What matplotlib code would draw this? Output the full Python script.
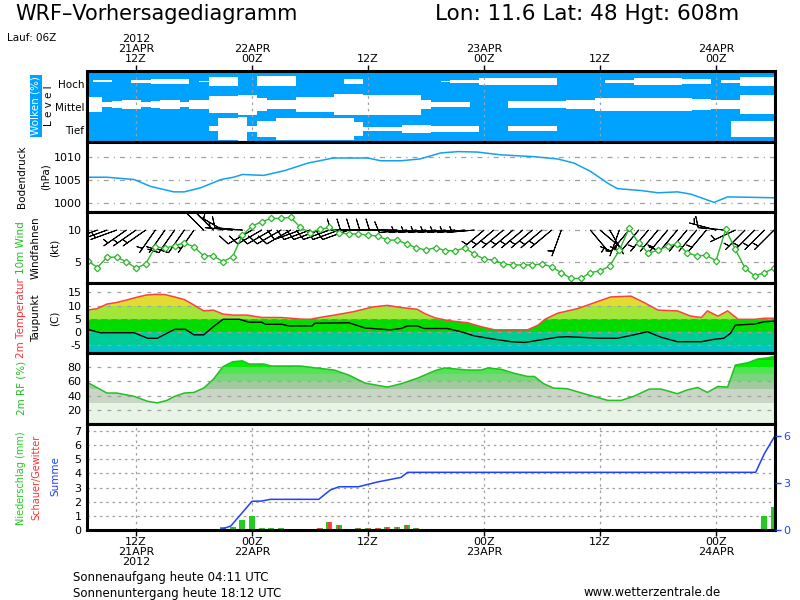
import numpy as np
import matplotlib
matplotlib.use('Agg')
import matplotlib.pyplot as plt

plt.rcParams['font.family'] = ['DejaVu Sans']
plt.rcParams['axes.unicode_minus'] = False

# ---------------- data ----------------
hours = np.arange(7, 79)  # hours since 21APR 00Z (hourly, 72 steps)

cloud_high = [1.0, 0.92, 0.92, 1.0, 1.0, 0.86, 0.86, 0.8, 0.8, 0.8, 0.8, 1.0,
              0.93, 0.6, 0.6, 0.6, 1.0, 1.0, 0.58, 0.58, 0.58, 0.58, 1.0, 1.0,
              1.0, 1.0, 1.0, 0.8, 0.8, 1.0, 1.0, 1.0, 1.0, 1.0, 1.0, 1.0,
              1.0, 0.95, 0.85, 0.85, 0.85, 0.7, 0.7, 0.7, 0.7, 0.7, 0.7, 0.7,
              0.7, 1.0, 1.0, 1.0, 1.0, 1.0, 0.89, 0.89, 0.89, 0.7, 0.7, 0.7,
              0.7, 0.7, 0.82, 0.82, 0.82, 1.0, 0.86, 0.86, 0.62, 0.62, 0.62, 0.62]
cloud_mid = [0.37, 0.37, 0.82, 0.72, 0.62, 0.62, 0.8, 0.72, 0.65, 0.65, 0.78, 0.62,
             0.62, 0.25, 0.25, 0.25, 0.15, 0.15, 0.44, 0.6, 0.6, 0.6, 0.34, 0.34,
             0.34, 0.34, 0.13, 0.13, 0.13, 0.16, 0.16, 0.16, 0.16, 0.16, 0.16, 0.65,
             0.77, 0.77, 0.77, 0.77, 1.0, 1.0, 1.0, 1.0, 0.72, 0.72, 0.72, 0.72,
             0.72, 0.72, 0.65, 0.65, 0.65, 0.44, 0.44, 0.44, 0.44, 0.44, 0.44, 0.44,
             0.44, 0.44, 0.44, 0.54, 0.54, 0.65, 0.65, 0.65, 0.23, 0.23, 0.23, 0.23]
cloud_low = [1.0, 1.0, 1.0, 1.0, 1.0, 1.0, 1.0, 1.0, 1.0, 1.0, 1.0, 1.0,
             1.0, 0.79, 0.08, 0.08, 0.0, 0.72, 0.3, 0.3, 0.08, 0.08, 0.08, 0.08,
             0.05, 0.05, 0.05, 0.05, 0.44, 0.83, 0.83, 0.83, 0.83, 0.65, 0.65, 0.65,
             0.75, 0.75, 0.75, 0.75, 0.75, 1.0, 1.0, 1.0, 0.79, 0.79, 0.79, 0.79,
             0.79, 1.0, 1.0, 1.0, 1.0, 1.0, 1.0, 1.0, 1.0, 1.0, 1.0, 1.0,
             1.0, 1.0, 1.0, 1.0, 1.0, 1.0, 1.0, 0.3, 0.3, 0.3, 0.3, 0.3]

p_hours = [7, 9, 11.8, 13.5, 15.9, 17, 18.7, 20.8, 22.1, 23, 25.2, 27.3, 29.8, 32.4,
           36, 37.3, 39.4, 41.4, 43.5, 45.3, 47.3, 49.7, 53.1, 55.6, 57.3, 59, 60.8,
           61.8, 64.2, 66, 68, 69.4, 71.8, 73.2, 75.9, 78.1]
p_vals = [1005.6, 1005.6, 1005.1, 1003.6, 1002.4, 1002.4, 1003.3, 1005.1, 1005.6,
          1006.2, 1006.0, 1007.0, 1008.7, 1009.8, 1009.8, 1009.2, 1009.2, 1009.6,
          1010.9, 1011.2, 1011.1, 1010.5, 1010.1, 1009.6, 1008.7, 1006.9, 1004.3,
          1003.1, 1002.7, 1002.2, 1002.4, 1001.9, 1000.1, 1001.3, 1001.2, 1001.1]

wind_speed = [5.25, 4.2, 5.8, 5.8, 5.1, 4.1, 4.75, 7.4, 7.2, 7.6, 8.0, 7.4,
              6.0, 6.0, 5.1, 5.9, 9.2, 10.6, 11.3, 11.8, 11.8, 12.0, 10.4, 9.6,
              10.1, 10.4, 9.6, 9.4, 9.4, 9.2, 9.1, 8.45, 8.45, 7.83, 7.26, 6.9,
              7.3, 6.8, 6.8, 7.2, 6.3, 5.5, 5.35, 4.75, 4.6, 4.6, 4.6, 4.75,
              4.3, 3.4, 2.5, 2.5, 3.4, 3.7, 4.4, 6.9, 10.25, 8.0, 6.4, 6.9,
              7.5, 7.9, 6.5, 6.0, 6.1, 5.25, 10.1, 7.0, 4.1, 2.9, 3.4, 4.1]
wind_dir = [250, 250, 250, 250, 235, 235, 235, 215, 215, 215, 215, 215,
            315, 315, 300, 275, 275, 240, 240, 240, 240, 240, 250, 250,
            250, 250, 250, 250, 270, 270, 270, 270, 270, 265, 265, 265,
            265, 265, 265, 265, 265, 230, 230, 230, 230, 230, 230, 230,
            230, 200, 185, 160, 140, 130, 150, 200, 220, 220, 220, 220,
            220, 220, 220, 220, 220, 285, 275, 245, 225, 225, 225, 225]

t_hours = [7, 8, 9, 10, 11, 12, 13, 14, 15, 16, 17, 18, 19, 20, 21, 22, 23.5, 25, 27,
           29, 30, 31, 32.5, 34.5, 36.5, 38, 39.4, 41.1, 41.8, 42.9, 44.3, 46.3, 47.7,
           49.1, 50.8, 52.5, 53.6, 54.3, 55.6, 57.7, 59.4, 61.1, 63.2, 64.6, 66, 68,
           69.4, 70.5, 71.1, 72.2, 73.2, 74.3, 76, 77, 78.1]
t_vals = [8.3, 8.9, 10.6, 11.2, 12.1, 13.1, 14.0, 14.3, 14.2, 13.3, 12.3, 10.2, 8.0,
          8.3, 6.8, 6.4, 6.4, 5.5, 5.5, 4.9, 4.8, 5.5, 6.4, 7.7, 9.5, 10.1, 9.3, 8.6,
          7.1, 5.4, 4.3, 3.5, 2.0, 0.8, 0.8, 0.8, 2.6, 4.8, 7.1, 8.9, 11.1, 13.3, 13.6,
          11.1, 8.3, 8.0, 6.0, 5.5, 8.0, 6.0, 8.0, 4.8, 4.8, 5.2, 5.2]

d_hours = [7, 8.3, 11.8, 13.2, 14.2, 16, 17.1, 18, 19, 20, 21, 22.7, 23.7, 25, 25.4,
           27.1, 27.8, 30.2, 30.5, 34, 35.7, 38.3, 39.4, 40.1, 41.1, 41.8, 44.2, 45.6,
           47, 49.1, 50.8, 52.2, 53.9, 55.6, 56.6, 60, 61.8, 63.5, 64.9, 66.3, 68,
           70.5, 71.8, 72.8, 73.5, 74, 76, 77, 78.1]
d_vals = [1.0, -0.3, -0.3, -2.4, -2.4, 1.0, 1.0, -1.1, -1.1, 2.0, 4.8, 4.8, 3.7, 3.7,
          2.9, 2.9, 2.3, 2.3, 3.3, 3.5, 1.5, 0.8, 1.3, 2.3, 2.3, 1.3, 1.3, 0.1, -1.5,
          -2.8, -3.7, -4.0, -3.0, -2.0, -1.8, -2.4, -2.4, -1.1, 0.1, -2.0, -3.7, -3.7,
          -2.8, -2.4, -0.5, 2.6, 3.0, 3.9, 4.1]

r_hours = [7, 9, 10, 11.8, 13.2, 14.2, 15.2, 16, 17, 18, 19, 20, 21, 22, 23, 23.7,
           25.2, 26, 29, 30, 32.5, 34, 35.7, 38, 39.4, 41.1, 42.9, 43.9, 46.3, 47.7,
           48.4, 49.8, 51.1, 52.5, 53.2, 54.2, 55.2, 56.6, 58.7, 60.8, 62.2, 63.5,
           65.1, 66.3, 68, 69.1, 70.1, 71.1, 72.2, 73.2, 74, 75.3, 76.3, 77.4, 78.1]
r_vals = [58.4, 43.6, 43.6, 39, 32, 29.7, 33.3, 39, 43.6, 44.5, 50.6, 63, 80.8, 87.7,
          89, 84.5, 84.5, 81.7, 81.7, 80, 76, 69, 57.6, 52, 56.6, 64.5, 75, 79, 76, 76,
          79, 77, 71.5, 67, 67, 56.6, 50.6, 49.7, 41.3, 33.3, 33.3, 39, 49.2, 49.2,
          42.7, 48.3, 51.5, 44.5, 52.9, 52, 83, 86.3, 91.5, 93.3, 95.7]

pr_hours = [21, 22, 23, 24, 25, 26, 27, 31, 32, 33, 35, 36, 37, 38, 39, 40, 41, 77, 78]
pr_total = [0.19, 0.19, 0.71, 0.99, 0.12, 0.12, 0.12, 0.12, 0.57, 0.35, 0.12, 0.12,
            0.12, 0.21, 0.21, 0.35, 0.12, 1.0, 1.65]
pr_conv = [0, 0, 0, 0, 0, 0, 0, 0.12, 0.57, 0.35, 0.12, 0.12, 0.12, 0.21, 0.21,
           0.35, 0.12, 0, 0]

sum_hours = [7, 20.6, 21.8, 24, 25, 25.9, 30.9, 32.1, 33, 35, 37, 39.4, 40.1, 76.1, 77, 78.1]
sum_vals = [0, 0, 0.28, 2.03, 2.05, 2.17, 2.17, 2.83, 3.06, 3.06, 3.4, 3.72, 4.08, 4.08,
            5.4, 6.67]

tick_hours = [12, 24, 36, 48, 60, 72]
top_labels = ['2012\n21APR\n12Z', '22APR\n00Z', '12Z', '23APR\n00Z', '12Z', '24APR\n00Z']
bottom_labels = ['12Z\n21APR\n2012', '00Z\n22APR', '12Z', '00Z\n23APR', '12Z', '00Z\n24APR']

# ---------------- figure ----------------
fig = plt.figure(figsize=(8, 6), dpi=100)
fig.patch.set_facecolor('white')
XL = (6.93, 78.1)
L, W = 87 / 800, 688 / 800
TFS = 8  # tick font size


def mkax(top, bottom):
    ax = fig.add_axes([L, 1 - bottom / 600, W, (bottom - top) / 600])
    ax.set_xlim(*XL)
    for s in ax.spines.values():
        s.set_linewidth(2.2)
        s.set_color('black')
        s.set_zorder(10)
    ax.tick_params(axis='x', bottom=False, labelbottom=False)
    ax.tick_params(axis='y', length=0, pad=4, labelsize=TFS)
    return ax


def hgrid(ax, vals, ls):
    for v in vals:
        ax.axhline(v, color='#a0a0a0', lw=0.9, ls=ls, zorder=4)


def vgrid(ax):
    for h in tick_hours:
        ax.axvline(h, color='#a0a0a0', lw=0.9, ls=(0, (2, 3)), zorder=4)


ax_c = mkax(71, 142)
ax_p = mkax(142, 212)
ax_w = mkax(212, 283)
ax_t = mkax(283, 353)
ax_r = mkax(353, 424)
ax_pr = mkax(424, 530)

# ---- clouds ----
blue = '#00a2ff'
ax_c.set_facecolor(blue)
ax_c.set_ylim(0, 3)
centers = [2.56, 1.58, 0.55]
for cov, cen in zip([cloud_high, cloud_mid, cloud_low], centers):
    half = (1 - np.array(cov)) / 2.0
    ax_c.fill_between(hours, cen - half, cen + half, step='mid', color='white', lw=0, zorder=2)
vgrid(ax_c)
ax_c.set_yticks([2.45, 1.48, 0.51])
ax_c.set_yticklabels(['Hoch', 'Mittel', 'Tief'])
ax_c.tick_params(axis='y', labelsize=7.5, pad=2)
ax_c.set_xticks(tick_hours)
ax_c.set_xticklabels(top_labels, linespacing=1.0)
ax_c.tick_params(axis='x', top=True, labeltop=True, bottom=False, labelbottom=False,
                 direction='out', length=4, width=1, labelsize=TFS, pad=1)

# ---- pressure ----
ax_p.set_ylim(998.0, 1013.3)
hgrid(ax_p, [1000, 1005, 1010], (0, (4, 4, 1, 4)))
ax_p.plot(p_hours, p_vals, color='#14a0f0', lw=1.1, zorder=5)
ax_p.set_yticks([1000, 1005, 1010])

# ---- wind ----
ax_w.set_ylim(1.8, 12.8)
hgrid(ax_w, [5, 10], (0, (4, 4, 1, 4)))
wd = np.radians(wind_dir)
ws = np.array(wind_speed)
u = -ws * np.sin(wd)
v = -ws * np.cos(wd)
ax_w.barbs(hours, np.full(len(hours), 10.0), u, v, length=6.3, lw=0.7, color='black',
           zorder=5, sizes=dict(emptybarb=0.0))
ax_w.plot(hours, wind_speed, color='#2db82d', lw=1.0, marker='D', ms=3.3,
          mfc='white', mec='#2db82d', mew=0.9, zorder=6)
ax_w.set_yticks([5, 10])

# ---- temperature ----
ax_t.set_ylim(-8, 18.6)
poly_t = ax_t.fill_between(t_hours, -50, t_vals, color='none', lw=0)
clip_t = poly_t.get_paths()[0]
t_bands = [(-50, -5, '#00c4c8'), (-5, 0, '#00cd96'), (0, 5, '#00dc00'),
           (5, 10, '#a2e63a'), (10, 15, '#e2dc32'), (15, 50, '#f0b030')]
for lo, hi, c in t_bands:
    r = ax_t.axhspan(lo, hi, color=c, lw=0, zorder=1)
    r.set_clip_path(clip_t, ax_t.transData)
hgrid(ax_t, [-5, 0, 5, 10, 15], (0, (3, 5)))
ax_t.plot(t_hours, t_vals, color='#ff4040', lw=1.1, zorder=6)
ax_t.plot(d_hours, d_vals, color='black', lw=1.0, zorder=6)
ax_t.set_yticks([-5, 0, 5, 10, 15])

# ---- relative humidity ----
ax_r.set_ylim(0, 100)
poly_r = ax_r.fill_between(r_hours, -10, r_vals, color='none', lw=0)
clip_r = poly_r.get_paths()[0]
r_bands = [(-10, 30, '#e8f4e6'), (30, 50, '#c9d6c6'), (50, 60, '#a3c9a1'),
           (60, 70, '#7ad67a'), (70, 80, '#52e452'), (80, 90, '#00ee00'),
           (90, 110, '#00d000')]
for lo, hi, c in r_bands:
    r = ax_r.axhspan(lo, hi, color=c, lw=0, zorder=1)
    r.set_clip_path(clip_r, ax_r.transData)
hgrid(ax_r, [20, 40, 60, 80], (0, (3, 5)))
ax_r.plot(r_hours, r_vals, color='#22c022', lw=1.1, zorder=6)
ax_r.set_yticks([20, 40, 60, 80])

# ---- precipitation ----
ax_pr.set_ylim(0, 7.5)
hgrid(ax_pr, [1, 2, 3, 4, 5, 6, 7], (0, (2, 3)))
vgrid(ax_pr)
ax_pr.bar(pr_hours, pr_total, width=0.62, color='#22cc22', lw=0, zorder=5)
ax_pr.bar(pr_hours, pr_conv, width=0.3, color='#ff3c3c', lw=0, zorder=6)
ax_pr.plot(sum_hours, sum_vals, color='#2040ff', lw=1.1, zorder=7)
ax_pr.set_yticks(range(0, 8))
ax_pr.set_xticks(tick_hours)
ax_pr.set_xticklabels(bottom_labels, linespacing=1.0)
ax_pr.tick_params(axis='x', bottom=True, labelbottom=True, direction='out', length=4,
                  width=1, labelsize=TFS, pad=1)
ax2 = ax_pr.twinx()
ax2.set_ylim(0, 6.75)
ax2.set_yticks([0, 3, 6])
ax2.tick_params(axis='y', colors='#2040ff', length=4, width=1, labelsize=TFS, pad=2)
for s in ax2.spines.values():
    s.set_visible(False)

# ---------------- texts ----------------
def ftext(x, y, s, **kw):
    fig.text(x / 800, 1 - y / 600, s, **kw)

ftext(15, 14, 'WRF\u2013Vorhersagediagramm', fontsize=15, va='center', ha='left')
ftext(435, 14, 'Lon: 11.6 Lat: 48 Hgt: 608m', fontsize=15.5, va='center', ha='left')
ftext(7, 38, 'Lauf: 06Z', fontsize=7.5, va='center', ha='left')

rot = dict(rotation=90, ha='center', va='center', fontsize=7.5)
ftext(36, 106, 'Wolken (%)', color='white',
      bbox=dict(facecolor=blue, edgecolor='none', pad=1.0), **rot)
ftext(49, 106, 'L e v e l', **rot)
ftext(22, 177, 'Bodendruck', **rot)
ftext(46, 177, '(hPa)', **rot)
ftext(21, 248, '10m Wind', color='#22c022', **rot)
ftext(36, 248, 'Windfahnen', **rot)
ftext(55, 248, '(kt)', **rot)
ftext(21, 318, '2m Temperatur', color='#ff3030', **rot)
ftext(36, 318, 'Taupunkt', **rot)
ftext(55, 318, '(C)', **rot)
ftext(21, 388, '2m RF (%)', color='#22c022', **rot)
ftext(21, 478, 'Niederschlag (mm)', color='#22cc22', **dict(rot, fontsize=7))
ftext(36, 477, 'Schauer/Gewitter', color='#ff3030', **dict(rot, fontsize=7))
ftext(55, 476, 'Summe', color='#2040ff', **rot)

ftext(73, 578, 'Sonnenaufgang heute 04:11 UTC', fontsize=8.5, va='center', ha='left')
ftext(73, 593, 'Sonnenuntergang heute 18:12 UTC', fontsize=8.5, va='center', ha='left')
ftext(583, 593, 'www.wetterzentrale.de', fontsize=8.5, va='center', ha='left')

fig.savefig('out.png', dpi=100, facecolor='white')
